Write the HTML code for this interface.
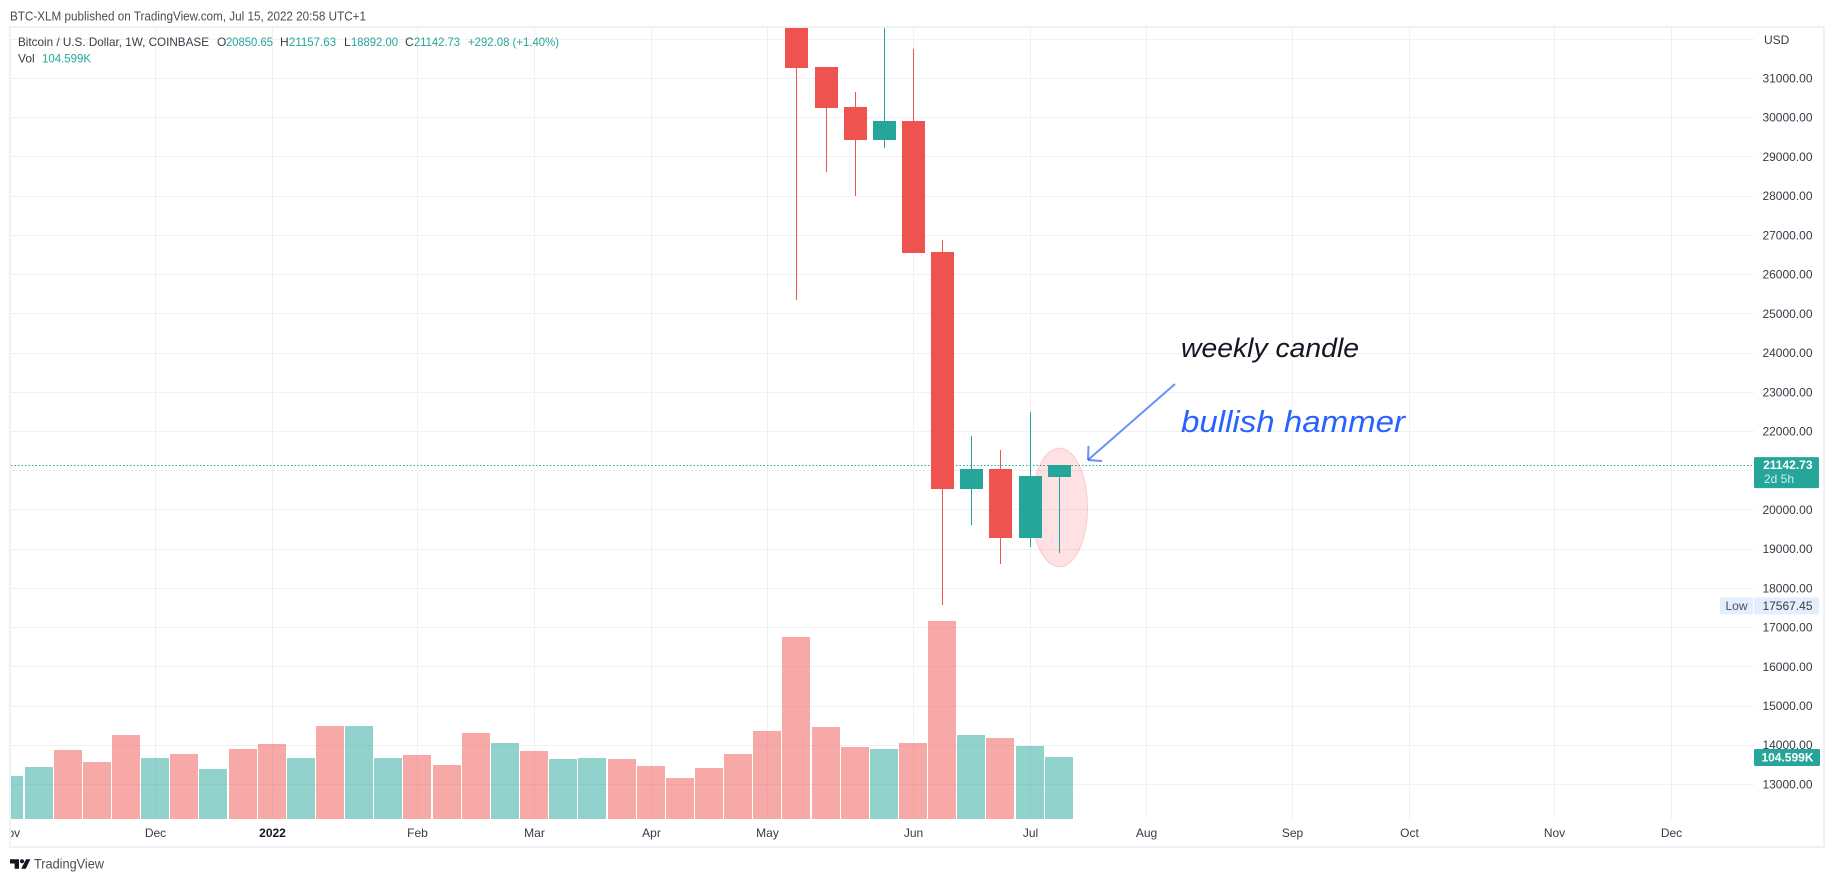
<!DOCTYPE html>
<html lang="en">
<head>
<meta charset="utf-8">
<title>BTC-XLM weekly chart</title>
<style>
html,body{margin:0;padding:0;background:#fff;width:1834px;height:882px;overflow:hidden}
svg{display:block;font-family:"Liberation Sans",sans-serif}
</style>
</head>
<body>
<svg id="chart" xmlns="http://www.w3.org/2000/svg" width="1834" height="882" viewBox="0 0 1834 882">
  <defs>
    <clipPath id="pane-clip"><rect x="11" y="28" width="1743" height="791"/></clipPath>
    <clipPath id="axis-clip"><rect x="11" y="819" width="1812" height="27"/></clipPath>
  </defs>
  <rect x="0" y="0" width="1834" height="882" fill="#ffffff"/>
  <text x="10" y="20.5" font-size="12.5" fill="#4a4c54" textLength="356" lengthAdjust="spacingAndGlyphs">BTC-XLM published on TradingView.com, Jul 15, 2022 20:58 UTC+1</text>
  <g id="grid"></g>
  <g id="volumes" clip-path="url(#pane-clip)"></g>
  <line id="last-price-line" x1="11" x2="1754" stroke="#26a69a" stroke-width="1" stroke-dasharray="1.5 2"/>
  <ellipse id="hammer-ellipse" fill="#f23645" fill-opacity="0.15" stroke="#f23645" stroke-opacity="0.2" stroke-width="1"/>
  <g id="candles" clip-path="url(#pane-clip)"></g>
  <g fill="none" stroke="#2962ff" stroke-opacity="0.7" stroke-width="2">
    <line x1="1175" y1="384" x2="1088" y2="460"/>
    <line x1="1088.5" y1="446" x2="1088" y2="460"/>
    <line x1="1102" y1="461" x2="1088" y2="460"/>
  </g>
  <text x="1181" y="357" font-size="27" font-style="italic" fill="#131722" textLength="178" lengthAdjust="spacingAndGlyphs">weekly candle</text>
  <text x="1181" y="432" font-size="31" font-style="italic" fill="#2962ff" textLength="224" lengthAdjust="spacingAndGlyphs">bullish hammer</text>

  <g font-size="12">
    <text x="18" y="46" fill="#3a3d46" textLength="191" lengthAdjust="spacingAndGlyphs">Bitcoin / U.S. Dollar, 1W, COINBASE</text>
    <text x="217" y="46" fill="#3a3d46">O</text>
    <text x="226" y="46" fill="#26a69a" textLength="47" lengthAdjust="spacingAndGlyphs">20850.65</text>
    <text x="280" y="46" fill="#3a3d46">H</text>
    <text x="289" y="46" fill="#26a69a" textLength="47" lengthAdjust="spacingAndGlyphs">21157.63</text>
    <text x="344" y="46" fill="#3a3d46">L</text>
    <text x="351" y="46" fill="#26a69a" textLength="47" lengthAdjust="spacingAndGlyphs">18892.00</text>
    <text x="405" y="46" fill="#3a3d46">C</text>
    <text x="414" y="46" fill="#26a69a" textLength="46" lengthAdjust="spacingAndGlyphs">21142.73</text>
    <text x="468" y="46" fill="#26a69a" textLength="91" lengthAdjust="spacingAndGlyphs">+292.08 (+1.40%)</text>
    <text x="18" y="62.5" fill="#3a3d46">Vol</text>
    <text x="42" y="62.5" fill="#26a69a" textLength="49" lengthAdjust="spacingAndGlyphs">104.599K</text>
  </g>

  <g id="price-axis" font-size="12" fill="#363a45"></g>
  <text x="1764" y="44" font-size="12" fill="#363a45">USD</text>

  <g id="badges"></g>
  <g id="time-axis" clip-path="url(#axis-clip)" font-size="12" fill="#363a45" text-anchor="middle"></g>

  <rect x="10" y="27" width="1814" height="820" fill="none" stroke="#f0f0f6" stroke-width="2"/>

  <g>
    <path fill="#131722" d="M10 859.3h9v9.4h-4.4v-5.2H10zM26 859.3h4.4l-4.6 9.4h-4.6z"/>
    <circle cx="22" cy="861.3" r="2" fill="#131722"/>
    <text x="34" y="868.5" font-size="14" fill="#4a4e5a" textLength="70" lengthAdjust="spacingAndGlyphs">TradingView</text>
  </g>
</svg>

<script>
var volumes = [72.5, 87.7, 116.4, 96.2, 141.7, 102.9, 109.7, 84.4, 118.1, 126.5, 102.9, 156.9, 156.9, 102.9, 108, 91.1, 145.1, 128.2, 114.7, 101.2, 102.9, 101.2, 89.4, 69.2, 86, 109.7, 148.5, 307, 155.2, 121.5, 118.1, 128.2, 334, 141.7, 136.6, 123.1, 104.599];
var volumeDirections = ['up', 'up', 'down', 'down', 'down', 'up', 'down', 'up', 'down', 'down', 'up', 'down', 'up', 'up', 'down', 'down', 'down', 'up', 'down', 'up', 'up', 'down', 'down', 'down', 'down', 'down', 'down', 'down', 'down', 'down', 'up', 'down', 'down', 'up', 'down', 'up', 'up'];
var candleStartBar = 27;
var opens = [34050, 31288, 30268, 29427, 29911, 26573, 20531, 21038, 19278, 20850.65];
var highs = [34200, 31288, 30651, 32400, 31747, 26877, 21880, 21522, 22490, 21157.63];
var lows = [25360, 28610, 28000, 29223, 26548, 17567.45, 19610, 18615, 19050, 18892];
var closes = [31263, 30243, 29427, 29911, 26548, 20531, 21038, 19278, 20860, 21142.73];
var priceGridTicks = [32000, 31000, 30000, 29000, 28000, 27000, 26000, 25000, 24000, 23000, 22000, 21000, 20000, 19000, 18000, 17000, 16000, 15000, 14000, 13000];
var priceLabelTicks = [31000, 30000, 29000, 28000, 27000, 26000, 25000, 24000, 23000, 22000, 20000, 19000, 18000, 17000, 16000, 15000, 14000, 13000];
var timeTickBars = [0, 5, 9, 14, 18, 22, 26, 31, 35, 39, 44, 48, 53, 57];
var timeTickLabels = ['Nov', 'Dec', '2022', 'Feb', 'Mar', 'Apr', 'May', 'Jun', 'Jul', 'Aug', 'Sep', 'Oct', 'Nov', 'Dec'];
var lastPrice = 21142.73;
var lowPrice = 17567.45;
var lastVolume = 104.599;
var highlightBar = 36;
var highlightTop = 21576;
var highlightBottom = 18547;

var SVG_NS = 'http://www.w3.org/2000/svg';
function xAxis(bar) { return Math.floor(9.85 + 29.15 * bar); }
function yAxis(price) { return 78.5 + (31000 - price) * 0.03922; }
function volumeAxis(value) { return 819 - value / 1.687; }
function make(tag, parent) {
  var el = document.createElementNS(SVG_NS, tag);
  parent.appendChild(el);
  return el;
}
function set(el, attrs) {
  for (var k in attrs) { el.setAttribute(k, attrs[k]); }
  return el;
}

var gridGroup = document.getElementById('grid');
priceGridTicks.forEach(function (p) {
  var row = Math.floor(yAxis(p)) + 0.5;
  var line = make('line', gridGroup);
  
  
  set(line, { x1: 11, x2: 1754, y1: row, y2: row, stroke: '#f1f1f4', 'stroke-width': 1 });
});
timeTickBars.forEach(function (b) {
  var col = xAxis(b) + 0.5;
  if (col < 11) { return; }
  var line = make('line', gridGroup);
  
  
  set(line, { x1: col, x2: col, y1: 28, y2: 819, stroke: '#f1f1f4', 'stroke-width': 1 });
});

var volumeGroup = document.getElementById('volumes');
volumes.forEach(function (v, i) {
  var cx = xAxis(i);
  var top = Math.round(volumeAxis(v));
  var bar = make('rect', volumeGroup);
  
  
  set(bar, {
    x: cx - 14,
    y: top,
    width: 28,
    height: 819 - top,
    fill: volumeDirections[i] === 'up' ? '#26a69a' : '#ef5350',
    'fill-opacity': 0.5
  });
});

var candleGroup = document.getElementById('candles');
opens.forEach(function (o, i) {
  var c = closes[i];
  var col = xAxis(candleStartBar + i);
  var color = c >= o ? '#26a69a' : '#ef5350';
  var wick = make('rect', candleGroup);
  
  
  var wickTop = Math.round(yAxis(highs[i]));
  var wickBottom = Math.round(yAxis(lows[i]));
  set(wick, { x: col, y: wickTop, width: 1, height: wickBottom - wickTop, fill: color });
  var body = make('rect', candleGroup);
  
  
  var bodyTop = Math.round(yAxis(Math.max(o, c)));
  var bodyBottom = Math.round(yAxis(Math.min(o, c)));
  set(body, { x: col - 11, y: bodyTop, width: 23, height: bodyBottom - bodyTop, fill: color });
});

var lastRow = Math.floor(yAxis(lastPrice)) + 0.5;
set(document.getElementById('last-price-line'), { y1: lastRow, y2: lastRow });
var ellipseTop = yAxis(highlightTop);
var ellipseBottom = yAxis(highlightBottom);
set(document.getElementById('hammer-ellipse'), {
  cx: xAxis(highlightBar) + 0.5,
  cy: (ellipseTop + ellipseBottom) / 2,
  rx: 28,
  ry: (ellipseBottom - ellipseTop) / 2
});

var priceAxisGroup = document.getElementById('price-axis');
priceLabelTicks.forEach(function (p) {
  var label = make('text', priceAxisGroup);
  
  
  set(label, { x: 1812.5, y: yAxis(p) + 4, 'text-anchor': 'end' });
  label.textContent = p.toFixed(2);
});

var timeAxisGroup = document.getElementById('time-axis');
timeTickBars.forEach(function (b, i) {
  var label = make('text', timeAxisGroup);
  
  
  set(label, { x: xAxis(b) + 0.5, y: 837 });
  if (timeTickLabels[i] === '2022') { set(label, { 'font-weight': 'bold', fill: '#131722' }); }
  label.textContent = timeTickLabels[i];
});

var badges = document.getElementById('badges');
var lastBox = make('rect', badges);


set(lastBox, { x: 1754, y: yAxis(lastPrice) - 8, width: 65, height: 31, rx: 1.5, fill: '#26a69a' });
var lastText = make('text', badges);


set(lastText, { x: 1812.5, y: yAxis(lastPrice) + 4, 'text-anchor': 'end', 'font-size': 12, 'font-weight': 'bold', fill: '#ffffff' });
lastText.textContent = lastPrice.toFixed(2);
var countdown = make('text', badges);


set(countdown, { x: 1764, y: yAxis(lastPrice) + 18, 'font-size': 12, fill: '#d4eeeb' });
countdown.textContent = '2d 5h';

var lowTag = make('rect', badges);


set(lowTag, { x: 1720, y: yAxis(lowPrice) - 8, width: 33, height: 17, rx: 1.5, fill: '#e3effd' });
var lowBox = make('rect', badges);


set(lowBox, { x: 1754, y: yAxis(lowPrice) - 8, width: 65, height: 17, rx: 1.5, fill: '#e3effd' });
var lowTagText = make('text', badges);


set(lowTagText, { x: 1725.5, y: yAxis(lowPrice) + 4.5, 'font-size': 12, fill: '#4a4e5a' });
lowTagText.textContent = 'Low';
var lowText = make('text', badges);


set(lowText, { x: 1812.5, y: yAxis(lowPrice) + 4.5, 'text-anchor': 'end', 'font-size': 12, fill: '#363a45' });
lowText.textContent = lowPrice.toFixed(2);

var volBox = make('rect', badges);


set(volBox, { x: 1754, y: volumeAxis(lastVolume) - 8, width: 66, height: 17, rx: 1.5, fill: '#26a69a' });
var volText = make('text', badges);


set(volText, { x: 1813.5, y: volumeAxis(lastVolume) + 4.5, 'text-anchor': 'end', 'font-size': 12, 'font-weight': 'bold', fill: '#ffffff' });
volText.textContent = lastVolume.toFixed(3) + 'K';
</script>
</body>
</html>
